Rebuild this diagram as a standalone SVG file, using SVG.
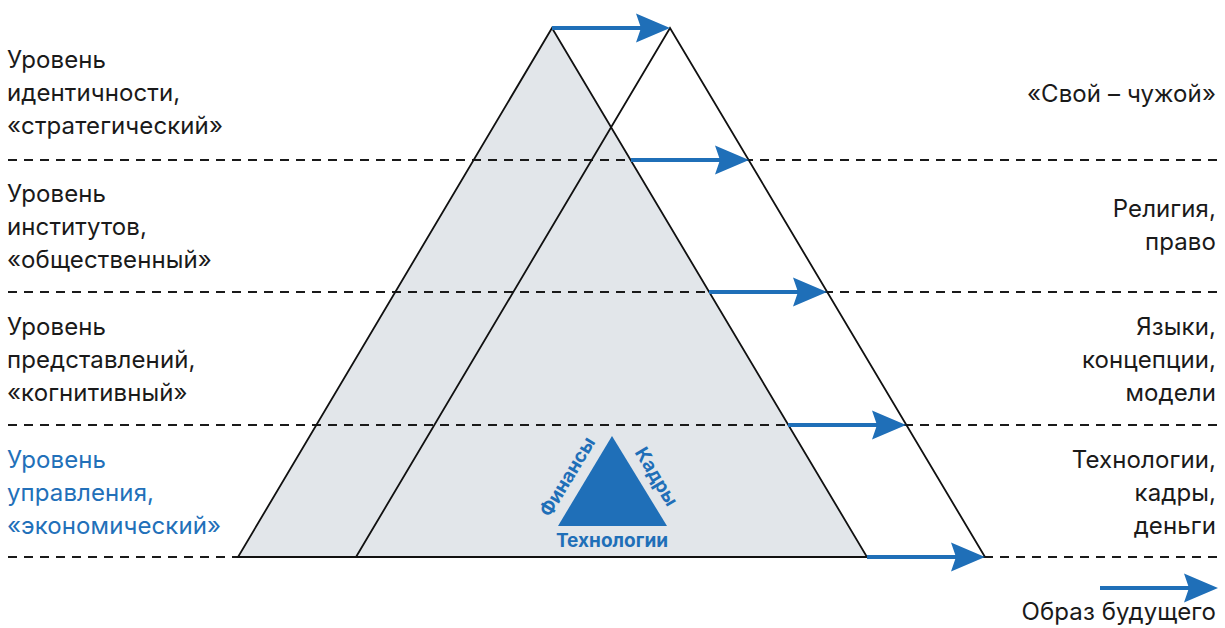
<svg xmlns="http://www.w3.org/2000/svg" width="1225" height="628" viewBox="0 0 1225 628">
<style>
.lbl{font-family:Inter,Roboto,"Liberation Sans",sans-serif;font-size:24px;letter-spacing:0.1px;fill:#1a1a1a}
.r{text-anchor:end}
.blue{fill:#2270b9}
.dash{stroke:#1a1a1a;stroke-width:2;stroke-dasharray:9 7;fill:none}
.edge{stroke:#111;stroke-width:1.8;fill:none;stroke-linejoin:miter}
.arr{stroke:#1f6fb8;stroke-width:4;fill:none;marker-end:url(#ah)}
.small{font-family:Inter,Roboto,"Liberation Sans",sans-serif;font-size:19px;font-weight:bold;fill:#1f6fb8;text-anchor:middle}
</style>
<defs>
<marker id="ah" markerUnits="userSpaceOnUse" markerWidth="36" markerHeight="30" refX="14" refY="15" orient="auto" viewBox="0 0 36 30">
<path d="M0,0.5 L34,15 L0,29.5 L5,15 Z" fill="#1f6fb8"/>
</marker>
</defs>
<rect width="1225" height="628" fill="#fff"/>
<g id="pyramid-fill">
<polygon points="552,28 238,557 867,557" fill="#e2e6ea"/>
</g>
<g id="levels">
<line class="dash" x1="8" y1="160" x2="1218" y2="160"/>
<line class="dash" x1="8" y1="292" x2="1218" y2="292"/>
<line class="dash" x1="8" y1="425" x2="1218" y2="425"/>
<line class="dash" x1="8" y1="557" x2="1218" y2="557"/>
</g>
<g id="pyramid-now">
<polygon class="edge" points="552,28 238,557 867,557"/>
</g>
<g id="pyramid-future">
<polyline class="edge" points="356,557 670,28 985,557"/>
<line class="edge" x1="356" y1="557" x2="985" y2="557"/>
</g>
<g id="connectors">
<line class="arr" x1="552" y1="28" x2="650" y2="28"/>
<line class="arr" x1="631" y1="160" x2="729" y2="160"/>
<line class="arr" x1="709" y1="292" x2="807" y2="292"/>
<line class="arr" x1="788" y1="425" x2="886" y2="425"/>
<line class="arr" x1="867" y1="557" x2="965" y2="557"/>
<line class="arr" x1="1100" y1="588" x2="1198" y2="588"/>
</g>
<g id="small-triangle">
<polygon points="612,436 558,526 667,526" fill="#1f6fb8"/>
<text class="small" x="612" y="547">Технологии</text>
<text class="small" transform="translate(573,480) rotate(-59)">Финансы</text>
<text class="small" transform="translate(651,480) rotate(59)">Кадры</text>
</g>
<g id="left-labels">
<text class="lbl" x="7" y="68">Уровень</text>
<text class="lbl" x="7" y="101">идентичности,</text>
<text class="lbl" x="7" y="134">«стратегический»</text>
<text class="lbl" x="7" y="202">Уровень</text>
<text class="lbl" x="7" y="235">институтов,</text>
<text class="lbl" x="7" y="268">«общественный»</text>
<text class="lbl" x="7" y="335">Уровень</text>
<text class="lbl" x="7" y="368">представлений,</text>
<text class="lbl" x="7" y="401">«когнитивный»</text>
<text class="lbl blue" x="7" y="468">Уровень</text>
<text class="lbl blue" x="7" y="501">управления,</text>
<text class="lbl blue" x="7" y="534">«экономический»</text>
</g>
<g id="right-labels">
<text class="lbl r" x="1216" y="102">«Свой – чужой»</text>
<text class="lbl r" x="1216" y="217">Религия,</text>
<text class="lbl r" x="1216" y="250">право</text>
<text class="lbl r" x="1216" y="335">Языки,</text>
<text class="lbl r" x="1216" y="368">концепции,</text>
<text class="lbl r" x="1216" y="401">модели</text>
<text class="lbl r" x="1216" y="468">Технологии,</text>
<text class="lbl r" x="1216" y="501">кадры,</text>
<text class="lbl r" x="1216" y="534">деньги</text>
<text class="lbl r" x="1216" y="620">Образ будущего</text>
</g>
</svg>
